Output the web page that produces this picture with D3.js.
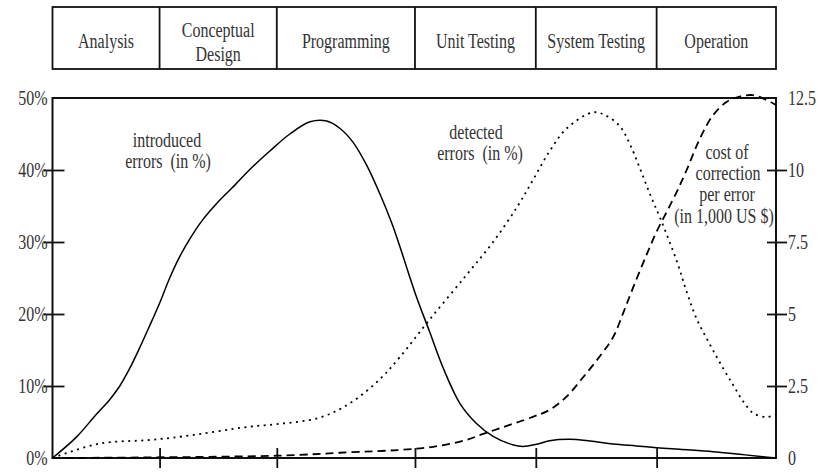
<!DOCTYPE html>
<html>
<head>
<meta charset="utf-8">
<script src="https://cdn.jsdelivr.net/npm/d3@7"></script>
<style>
  html, body { margin: 0; padding: 0; background: #fff; }
  svg { display: block; }
  text { font-family: "Liberation Serif", "Times New Roman", serif; fill: #333; }
</style>
</head>
<body>
<svg id="chart" width="824" height="476"></svg>
<script>
// ---- data ----
const phases = ["Analysis", "Conceptual|Design", "Programming", "Unit Testing", "System Testing", "Operation"];
const phaseBounds = [0, 14.8, 31.0, 50.1, 66.8, 83.5, 100];

const leftTicks = [0, 10, 20, 30, 40, 50];
const rightTicks = [0, 2.5, 5, 7.5, 10, 12.5];

const introducedX = [0, 3.3, 6.0, 7.9, 9.3, 10.65, 12.0, 13.4, 14.8, 16.2, 17.6, 18.9, 20.7, 23.1, 25.2, 27.2, 30.0, 32.8, 35.6, 37.9, 39.7, 41.5, 43.4, 45.2, 46.9, 48.0, 50.3, 52.1, 54.0, 56.3, 58.6, 60.9, 63.7, 65.0, 66.9, 68.7, 71.5, 74.3, 77.5, 80.7, 83.5, 86.7, 91.3, 95.0, 98.2, 100];
const introducedY = [0, 2.9, 6.0, 8.1, 10.0, 12.4, 15.2, 18.3, 21.5, 25.0, 28.0, 30.3, 33.0, 35.8, 37.9, 40.0, 42.6, 45.0, 46.7, 46.8, 45.8, 43.9, 40.7, 36.8, 32.6, 29.4, 22.4, 17.6, 12.5, 7.6, 4.8, 3.0, 1.8, 1.6, 1.9, 2.4, 2.6, 2.36, 1.94, 1.67, 1.43, 1.2, 0.88, 0.51, 0.18, 0];

const detectedX = [0, 6.5, 13.4, 18.0, 27.2, 31.0, 36.9, 41.1, 45.2, 48.0, 52.1, 57.2, 60.9, 64.3, 66.4, 68.7, 71.1, 74.7, 76.4, 78.4, 79.8, 81.2, 82.6, 84.0, 86.3, 87.65, 89.0, 90.9, 92.7, 94.1, 95.5, 96.9, 98.7, 100];
const detectedY = [0, 2.0, 2.5, 3.0, 4.35, 4.7, 5.6, 7.6, 10.9, 14.0, 19.2, 25.4, 30.0, 35.0, 38.6, 42.6, 45.8, 48.0, 47.6, 46.1, 43.6, 40.2, 36.6, 33.3, 27.3, 23.1, 19.4, 15.7, 12.45, 10.1, 7.8, 6.2, 5.7, 6.0];

const costX = [0, 31.0, 41.1, 48.0, 52.6, 57.2, 59.1, 61.8, 66.4, 68.7, 71.05, 73.4, 75.7, 77.5, 78.9, 80.3, 82.1, 83.5, 84.9, 86.3, 87.65, 89.5, 91.3, 93.2, 95.0, 96.8, 98.7, 100];
const costY = [0, 0.08, 0.2, 0.28, 0.39, 0.625, 0.8, 1.03, 1.43, 1.67, 2.13, 2.82, 3.55, 4.2, 5.05, 5.95, 7.05, 7.86, 8.55, 9.25, 10.0, 11.1, 11.9, 12.37, 12.55, 12.6, 12.43, 12.26];

const introducedLabel = ["introduced", "errors  (in %)"];
const detectedLabel = ["detected", "errors  (in %)"];
const costLabel = ["cost of", "correction", "per error", "(in 1,000 US $)"];

// ---- layout ----
const plot = { left: 52.5, right: 776, top: 98, bottom: 458 };
const header = { top: 7, bottom: 69 };
const TS = "scale(1,1.25)";

const svg = d3.select("#chart");

const x = d3.scaleLinear().domain([0, 100]).range([plot.left, plot.right]);
const yL = d3.scaleLinear().domain([0, 50]).range([plot.bottom, plot.top]);
const yR = d3.scaleLinear().domain([0, 12.5]).range([plot.bottom, plot.top]);

// ---- header boxes ----
const hdr = svg.append("g");
hdr.append("rect")
  .attr("x", x(0)).attr("y", header.top)
  .attr("width", x(100) - x(0)).attr("height", header.bottom - header.top)
  .attr("fill", "none").attr("stroke", "#111").attr("stroke-width", 1.8);
hdr.selectAll("line.div").data(phaseBounds.slice(1, -1)).join("line")
  .attr("x1", d => x(d)).attr("x2", d => x(d))
  .attr("y1", header.top).attr("y2", header.bottom)
  .attr("stroke", "#111").attr("stroke-width", 1.8);
phases.forEach((p, i) => {
  const cx = (x(phaseBounds[i]) + x(phaseBounds[i + 1])) / 2;
  const lines = p.split("|");
  const baselines = lines.length === 1 ? [48] : [37, 61];
  lines.forEach((ln, j) => {
    hdr.append("text")
      .attr("transform", `translate(${cx},${baselines[j]}) ${TS}`)
      .attr("text-anchor", "middle")
      .attr("font-size", 16)
      .text(ln);
  });
});

// ---- frame ----
svg.append("rect")
  .attr("x", plot.left).attr("y", plot.top)
  .attr("width", plot.right - plot.left).attr("height", plot.bottom - plot.top)
  .attr("fill", "none").attr("stroke", "#111").attr("stroke-width", 2);

// ---- axes ----
const gL = svg.append("g").attr("transform", `translate(${plot.left},0)`)
  .call(d3.axisLeft(yL).tickValues(leftTicks).tickSize(10).tickPadding(5).tickFormat(d => d + "%"));
const gR = svg.append("g").attr("transform", `translate(${plot.right},0)`)
  .call(d3.axisRight(yR).tickValues(rightTicks).tickSize(10).tickPadding(3).tickFormat(d => d3.format("")(d)));
const gB = svg.append("g").attr("transform", `translate(0,${plot.bottom})`)
  .call(d3.axisBottom(x).tickValues(phaseBounds.slice(1, -1)).tickSize(10).tickFormat(""));

[gL, gR, gB].forEach(g => {
  g.select(".domain").remove();
  g.selectAll(".tick line").attr("stroke", "#111").attr("stroke-width", 1.8);
});
gL.selectAll(".tick line").attr("x1", 12).attr("x2", -9)
  .attr("display", d => (d === 0 || d === 50) ? "none" : null);
gR.selectAll(".tick line").attr("x1", -9).attr("x2", 11)
  .attr("display", d => (d === 0 || d === 12.5) ? "none" : null);
gB.selectAll(".tick line").attr("y1", -10).attr("y2", 10);

[gL, gR].forEach(g => {
  g.selectAll(".tick text")
    .attr("font-family", "Liberation Serif, Times New Roman, serif")
    .attr("font-size", 16)
    .attr("fill", "#333")
    .attr("dy", "0.3em")
    .attr("transform", TS);
});
gL.selectAll(".tick text").attr("x", -5);
gR.selectAll(".tick text").attr("x", 12);

// ---- curves ----
const line = (xs, ys, ys_scale) => d3.line()
  .x((d, i) => x(xs[i]))
  .y((d, i) => ys_scale(ys[i]))
  .curve(d3.curveCatmullRom.alpha(0.5))(xs);

svg.append("path")
  .attr("d", line(introducedX, introducedY, yL))
  .attr("fill", "none").attr("stroke", "#000").attr("stroke-width", 1.5);

svg.append("path")
  .attr("d", line(detectedX, detectedY, yL))
  .attr("fill", "none").attr("stroke", "#000").attr("stroke-width", 1.8)
  .attr("stroke-dasharray", "2,4.5");

svg.append("path")
  .attr("d", line(costX, costY, yR))
  .attr("fill", "none").attr("stroke", "#000").attr("stroke-width", 1.8)
  .attr("stroke-dasharray", "8,5");

// ---- annotations ----
function label(lines, cxs, baselines) {
  lines.forEach((ln, i) => {
    svg.append("text")
      .attr("transform", `translate(${cxs[i]},${baselines[i]}) ${TS}`)
      .attr("text-anchor", "middle")
      .attr("font-size", 16)
      .style("white-space", "pre")
      .text(ln);
  });
}
label(introducedLabel, [167, 168], [147, 168]);
label(detectedLabel, [476, 480], [139, 160]);
label(costLabel, [727, 728, 727, 724], [159, 180, 201, 223]);
</script>
</body>
</html>
